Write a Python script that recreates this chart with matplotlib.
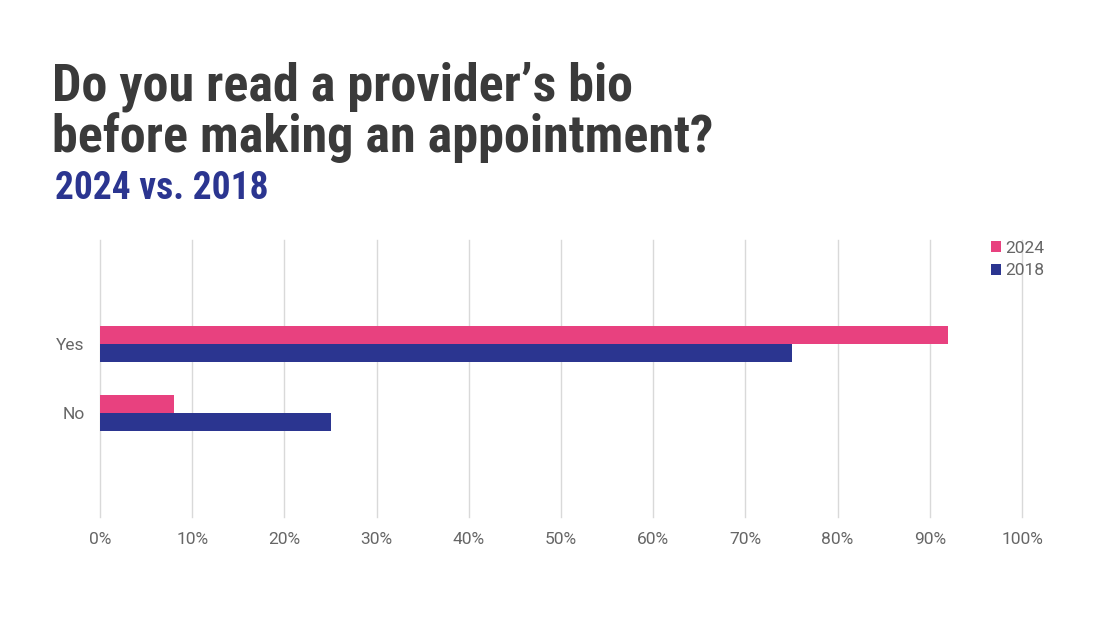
import matplotlib.pyplot as plt
import numpy as np
from matplotlib.ticker import PercentFormatter

# chart data
categories = ['No', 'Yes']
years = ['2024', '2018']
share_2024 = [8, 92]
share_2018 = [25, 75]

pink = '#E8417F'
navy = '#2B3590'
grey_txt = '#666666'
title_font = ['Roboto Condensed', 'DejaVu Sans']
tick_font = ['Roboto', 'DejaVu Sans']

plt.rcParams['font.family'] = tick_font

fig = plt.figure(figsize=(11, 6.19), dpi=100)
ax = fig.add_axes([100 / 1100, 102 / 619, 922 / 1100, 277 / 619])

y = np.arange(len(categories))
h = 0.26
ax.barh(y + h / 2, share_2024, height=h, color=pink, label=years[0])
ax.barh(y - h / 2, share_2018, height=h, color=navy, label=years[1])

ax.set_xlim(0, 100)
ax.set_ylim(-1.507, 2.507)
ax.set_xticks(np.arange(0, 101, 10))
ax.xaxis.set_major_formatter(PercentFormatter(decimals=0))
ax.set_yticks(y)
ax.set_yticklabels(categories)
ax.tick_params(length=0, labelsize=12.5, labelcolor=grey_txt)
ax.tick_params(axis='x', pad=11)
ax.tick_params(axis='y', pad=11)
ax.grid(axis='x', color='#D9D9D9', linewidth=1)
for gl in ax.get_xgridlines():
    gl.set_clip_on(False)
ax.set_axisbelow(True)
for s in ax.spines.values():
    s.set_visible(False)

leg = fig.legend(loc='upper left', bbox_to_anchor=(975 / 1100, 1 - 225 / 619),
                 frameon=False, handlelength=0.6, handleheight=0.6,
                 handletextpad=0.25, labelspacing=0.45,
                 prop={'size': 12.5})
for t in leg.get_texts():
    t.set_color(grey_txt)

fig.text(52 / 1100, 1 - 100 / 619, 'Do you read a provider\u2019s bio',
         fontsize=37.5, fontweight='bold', color='#3A3A3A', va='baseline', family=title_font)
fig.text(52 / 1100, 1 - 152 / 619, 'before making an appointment?',
         fontsize=37.5, fontweight='bold', color='#3A3A3A', va='baseline', family=title_font)
fig.text(55 / 1100, 1 - 199 / 619, '2024 vs. 2018',
         fontsize=27, fontweight='bold', color=navy, va='baseline', family=title_font)

fig.savefig('out.png', dpi=100)
